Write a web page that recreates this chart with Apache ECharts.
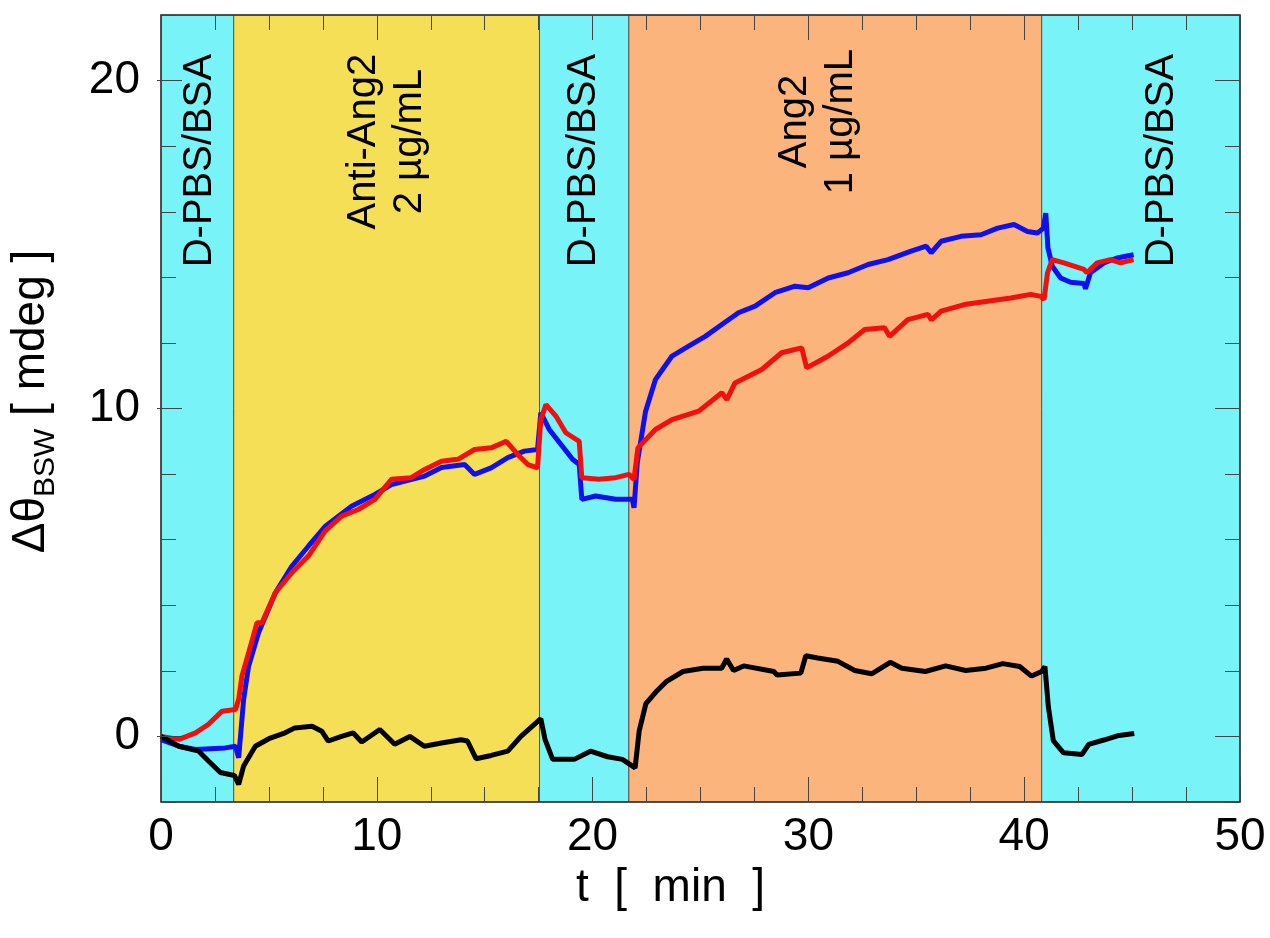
<!DOCTYPE html>
<html>
<head>
<meta charset="utf-8">
<script src="https://cdn.jsdelivr.net/npm/echarts@6/dist/echarts.min.js"></script>
<style>
html,body{margin:0;padding:0;background:#fff;}
#chart{width:1270px;height:938px;}
</style>
</head>
<body>
<div id="chart"></div>
<script>
// ---------- data ----------
const xTickLabels = [0, 10, 20, 30, 40, 50];
const yTickLabels = [0, 10, 20];

// band boundaries (min) and names
const bandEdges = [0, 3.37, 17.54, 21.68, 40.81, 50];
const bandNames = ['D-PBS/BSA', 'Anti-Ang2\n2 µg/mL', 'D-PBS/BSA', 'Ang2\n1 µg/mL', 'D-PBS/BSA'];

// blue trace
const blueT = [0,0.83,1.6,2.98,3.45,3.6,3.83,4.06,4.52,5.3,6.06,6.83,7.6,8.83,9.91,10.68,12.22,13.0,14.07,14.53,15.3,16.07,16.84,17.45,17.6,17.99,18.6,19.07,19.38,19.5,20.14,21.07,21.84,21.92,22.07,22.45,22.91,23.68,24.45,25.22,25.99,26.76,27.53,28.45,29.38,29.99,30.92,31.84,32.77,33.69,34.76,35.46,35.69,36.15,37.07,38.0,38.77,39.53,40.15,40.61,40.89,41.0,41.1,41.3,41.69,42.15,42.77,42.84,43.07,43.69,44.3,45.07];
const blueV = [-0.1,-0.3,-0.4,-0.35,-0.3,-0.65,1.13,2.14,3.16,4.38,5.19,5.8,6.4,7.02,7.38,7.68,7.94,8.2,8.29,7.99,8.19,8.5,8.7,8.75,9.87,9.36,8.85,8.45,8.29,7.23,7.33,7.23,7.23,6.97,8.34,9.9,10.88,11.6,11.9,12.2,12.56,12.92,13.12,13.53,13.73,13.68,13.98,14.14,14.39,14.54,14.8,14.95,14.75,15.1,15.25,15.3,15.5,15.61,15.4,15.35,15.5,15.96,14.9,14.34,13.98,13.85,13.81,13.65,14.14,14.44,14.59,14.69];

// red trace
const redT = [0,0.83,1.6,2.2,2.83,3.45,3.6,3.75,4.06,4.45,4.68,5.3,6.06,6.83,7.6,8.37,9.14,9.91,10.68,11.6,12.22,13.0,13.76,14.53,15.3,16.0,16.53,17.0,17.45,17.6,17.84,18.3,18.76,19.38,19.5,20.3,21.07,21.68,21.92,22.1,22.91,23.68,24.92,25.99,26.22,26.6,27.84,28.76,29.69,29.92,30.92,31.84,32.61,33.53,33.76,34.61,35.54,35.7,36.15,37.23,38.3,39.38,40.3,40.77,40.92,41.08,41.3,41.84,42.77,42.9,43.38,44.0,44.46,45.07];
const redV = [0.0,-0.09,0.11,0.37,0.77,0.82,1.13,1.84,2.55,3.47,3.47,4.38,4.99,5.5,6.26,6.72,6.92,7.23,7.84,7.89,8.14,8.39,8.45,8.75,8.8,9.0,8.6,8.29,8.19,9.66,10.12,9.77,9.26,9.0,7.89,7.84,7.89,7.99,7.84,8.8,9.36,9.66,9.92,10.48,10.27,10.78,11.19,11.7,11.85,11.24,11.6,12.0,12.41,12.46,12.2,12.71,12.87,12.7,12.97,13.17,13.27,13.37,13.48,13.42,13.32,14.14,14.54,14.44,14.24,14.14,14.44,14.54,14.44,14.54];

// black trace
const blackT = [0,0.83,1.75,2.2,2.75,3.4,3.6,3.83,4.37,5.0,5.75,6.2,7.0,7.45,7.75,8.37,8.9,9.3,10.14,10.83,11.53,12.2,13.0,13.9,14.2,14.6,15.3,16.07,16.68,17.6,17.8,18.15,19.15,19.9,20.7,21.38,21.97,22.16,22.47,22.94,23.41,24.19,25.12,25.98,26.21,26.53,27.0,28.4,28.55,29.65,29.88,30.43,31.37,32.15,32.93,33.79,34.33,35.42,36.36,37.29,38.23,39.01,39.79,40.34,40.81,40.96,41.12,41.35,41.82,42.68,42.99,43.69,44.32,45.1];
const blackV = [0.0,-0.3,-0.45,-0.75,-1.1,-1.19,-1.46,-0.9,-0.3,-0.07,0.11,0.26,0.31,0.16,-0.14,0.0,0.11,-0.17,0.21,-0.24,0.0,-0.3,-0.2,-0.1,-0.14,-0.68,-0.58,-0.45,0.0,0.54,-0.1,-0.7,-0.7,-0.45,-0.62,-0.7,-0.96,0.17,1.0,1.36,1.67,1.98,2.08,2.08,2.36,2.01,2.15,1.98,1.87,1.93,2.46,2.39,2.29,2.01,1.91,2.26,2.08,1.98,2.15,2.01,2.08,2.22,2.13,1.84,1.98,2.13,0.9,-0.13,-0.5,-0.55,-0.24,-0.11,0.02,0.09];

// ---------- styles / annotation anchors (data coords) ----------
const bandColors = ['#78f4f8', '#f4df56', '#78f4f8', '#fbb47c', '#78f4f8'];
const bandLabelAnchors = [[1.8, 17.56], [10.45, 18.14], [19.62, 17.56], [30.45, 18.75], [46.4, 17.56]];
const FONT = '"Liberation Sans", Arial, Helvetica, sans-serif';

const zip = (a, b) => a.map((t, i) => [t, b[i]]);

const chart = echarts.init(document.getElementById('chart'), null, {renderer: 'canvas'});

const bandAreas = bandNames.map((n, i) => [
  {xAxis: bandEdges[i], yAxis: -2, itemStyle: {color: bandColors[i]}},
  {xAxis: bandEdges[i + 1], yAxis: 22}
]);

const grid = {left: 157, right: 30, top: 15, bottom: 136};
const frameLine = {show: true, onZero: false, lineStyle: {color: '#333', width: 1.5}};
const tickStyle = {color: '#444', width: 1};

const option = {
  animation: false,
  backgroundColor: '#fff',
  grid: [Object.assign({}, grid), Object.assign({}, grid)],
  xAxis: [
    {
      gridIndex: 0, type: 'value', position: 'bottom', min: 0, max: 50, interval: 10, z: 10,
      axisLine: frameLine,
      axisTick: {show: true, inside: true, length: 25, lineStyle: tickStyle},
      minorTick: {show: true, splitNumber: 4, length: 15, lineStyle: tickStyle},
      splitLine: {show: false},
      axisLabel: {fontSize: 46, color: '#000', margin: 12, fontFamily: FONT,
        customValues: xTickLabels},
      name: 't  [  min  ]', nameLocation: 'middle', nameGap: 62,
      nameTextStyle: {fontSize: 46, color: '#000', fontFamily: FONT, padding: [0, 60, 0, 0]}
    },
    {
      gridIndex: 0, type: 'value', position: 'top', min: 0, max: 50, interval: 10, z: 10,
      axisLine: frameLine,
      axisTick: {show: true, inside: true, length: 25, lineStyle: tickStyle},
      minorTick: {show: true, splitNumber: 4, length: 15, lineStyle: tickStyle},
      splitLine: {show: false},
      axisLabel: {show: false}
    },
    {
      gridIndex: 1, type: 'value', min: 0, max: 50, show: false
    }
  ],
  yAxis: [
    {
      gridIndex: 0, type: 'value', position: 'left', min: -2, max: 22, interval: 2, z: 10,
      axisLine: frameLine,
      axisTick: {show: true, inside: true, length: 15, lineStyle: tickStyle},
      splitLine: {show: false},
      axisLabel: {show: false},
      name: '{a|Δθ}{s|BSW}{a| [ mdeg ]}', nameLocation: 'middle', nameRotate: 90, nameGap: 100,
      nameTextStyle: {
        fontFamily: FONT, color: '#000', padding: [0, 0, 0, 14],
        rich: {
          a: {fontSize: 46, lineHeight: 60, fontFamily: FONT, color: '#000', verticalAlign: 'middle'},
          s: {fontSize: 30, lineHeight: 30, fontFamily: FONT, color: '#000', verticalAlign: 'bottom'}
        }
      }
    },
    {
      gridIndex: 0, type: 'value', position: 'right', min: -2, max: 22, interval: 2, z: 10,
      axisLine: frameLine,
      axisTick: {show: true, inside: true, length: 15, lineStyle: tickStyle},
      splitLine: {show: false},
      axisLabel: {show: false}
    },
    {
      gridIndex: 1, type: 'value', position: 'left', min: -2, max: 22, z: 11,
      axisLine: {show: false},
      axisTick: {show: true, inside: true, length: 25, lineStyle: tickStyle, customValues: yTickLabels},
      splitLine: {show: false},
      axisLabel: {show: true, fontSize: 46, color: '#000', margin: 17, fontFamily: FONT, customValues: yTickLabels}
    },
    {
      gridIndex: 1, type: 'value', position: 'right', min: -2, max: 22, z: 11,
      axisLine: {show: false},
      axisTick: {show: true, inside: true, length: 25, lineStyle: tickStyle, customValues: yTickLabels},
      splitLine: {show: false},
      axisLabel: {show: false}
    }
  ],
  series: [
    {
      type: 'line', xAxisIndex: 0, yAxisIndex: 0, data: [], z: 1, silent: true,
      markArea: {silent: true, itemStyle: {borderColor: '#555', borderWidth: 1}, data: bandAreas}
    },
    {
      name: 'blue', type: 'line', xAxisIndex: 0, yAxisIndex: 0, z: 3, showSymbol: false,
      lineStyle: {color: '#1010ee', width: 5}, data: zip(blueT, blueV)
    },
    {
      name: 'red', type: 'line', xAxisIndex: 0, yAxisIndex: 0, z: 4, showSymbol: false,
      lineStyle: {color: '#f01010', width: 5}, data: zip(redT, redV)
    },
    {
      name: 'black', type: 'line', xAxisIndex: 0, yAxisIndex: 0, z: 5, showSymbol: false,
      lineStyle: {color: '#000', width: 5}, data: zip(blackT, blackV)
    }
  ]
};

chart.setOption(option);

const graphics = bandNames.map((name, i) => {
  const p = chart.convertToPixel({xAxisIndex: 0, yAxisIndex: 0}, bandLabelAnchors[i]);
  return {
    type: 'text', x: p[0], y: p[1], rotation: Math.PI / 2, z: 20, silent: true,
    style: {text: name, font: '40px ' + FONT, fill: '#000', align: 'center', verticalAlign: 'middle', lineHeight: 46}
  };
});
chart.setOption({graphic: graphics});
</script>
</body>
</html>
